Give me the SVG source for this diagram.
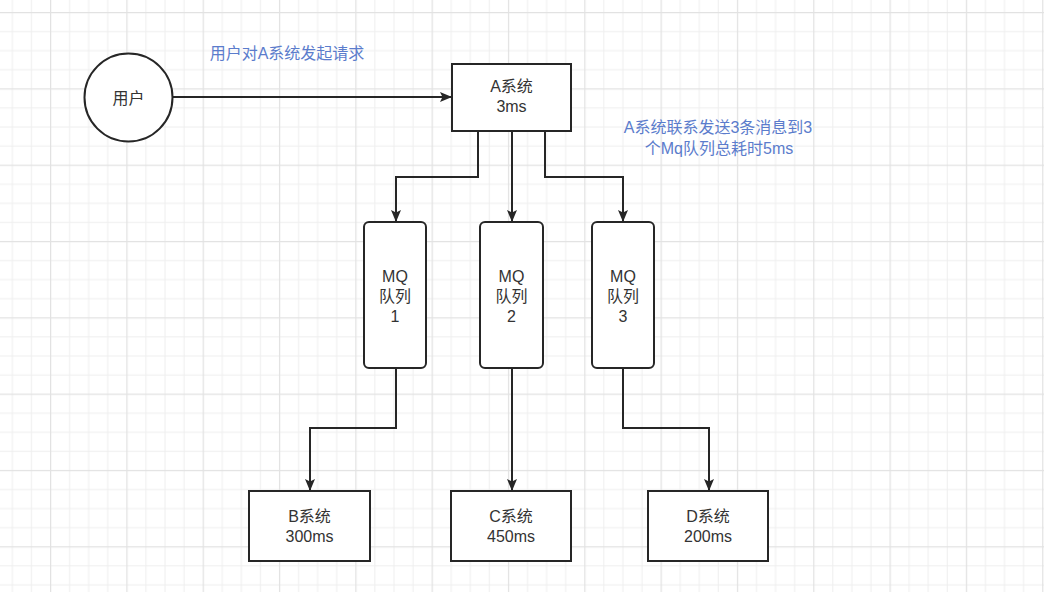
<svg xmlns="http://www.w3.org/2000/svg" width="1044" height="592" viewBox="0 0 1044 592">
<defs>
<pattern id="grid" x="50" y="12" width="76.32" height="76.32" patternUnits="userSpaceOnUse">
<rect width="76.32" height="76.32" fill="#ffffff"/>
<g fill="#efefef">
<rect x="19.08" y="0" width="1" height="76.32"/>
<rect x="38.16" y="0" width="1" height="76.32"/>
<rect x="57.24" y="0" width="1" height="76.32"/>
<rect x="0" y="19.08" width="76.32" height="1"/>
<rect x="0" y="38.16" width="76.32" height="1"/>
<rect x="0" y="57.24" width="76.32" height="1"/>
</g>
<g fill="#e2e2e2">
<rect x="0" y="0" width="1.2" height="76.32"/>
<rect x="0" y="0" width="76.32" height="1.2"/>
</g>
</pattern>
<marker id="arr" markerUnits="userSpaceOnUse" markerWidth="14" markerHeight="12" refX="12" refY="5" orient="auto">
<path d="M0,0 L12,5 L0,10 L2.5,5 Z" fill="#262626"/>
</marker>
<style>
.node{fill:#ffffff;stroke:#262626;stroke-width:2}
.t{font-family:"Liberation Sans","Noto Sans CJK SC",sans-serif;font-size:16px;fill:#333333;text-anchor:middle}
.lbl{font-family:"Liberation Sans","Noto Sans CJK SC",sans-serif;font-size:16px;fill:#5b7ccc;text-anchor:middle}
.edge{fill:none;stroke:#262626;stroke-width:2;marker-end:url(#arr)}
</style>
</defs>
<rect width="1044" height="592" fill="url(#grid)"/>

<g id="connectors">
<path class="edge" d="M173,97 L452,97"/>
<path class="edge" d="M478,131 L478,177 L396,177 L396,222"/>
<path class="edge" d="M512,131 L512,222"/>
<path class="edge" d="M545,131 L545,177 L623,177 L623,222"/>
<path class="edge" d="M396,368 L396,428 L310,428 L310,491"/>
<path class="edge" d="M512,368 L512,491"/>
<path class="edge" d="M623,368 L623,428 L709,428 L709,491"/>
</g>

<g id="user">
<circle class="node" cx="128.5" cy="97.5" r="44"/>
<text class="t" x="128.5" y="104">用户</text>
</g>
<g id="label-request">
<text class="lbl" x="287" y="59">用户对A系统发起请求</text>
</g>
<g id="systemA">
<rect class="node" x="452" y="64" width="119" height="67"/>
<text class="t" x="511.5" y="92">A系统</text>
<text class="t" x="511.5" y="112">3ms</text>
</g>
<g id="label-send">
<text class="lbl" x="718" y="133">A系统联系发送3条消息到3</text>
<text class="lbl" x="719" y="154">个Mq队列总耗时5ms</text>
</g>
<g id="mq1">
<rect class="node" x="364" y="222" width="62" height="146" rx="5"/>
<text class="t" x="395" y="282">MQ</text>
<text class="t" x="395" y="302">队列</text>
<text class="t" x="395" y="322">1</text>
</g>
<g id="mq2">
<rect class="node" x="480" y="222" width="63" height="146" rx="5"/>
<text class="t" x="511.5" y="282">MQ</text>
<text class="t" x="511.5" y="302">队列</text>
<text class="t" x="511.5" y="322">2</text>
</g>
<g id="mq3">
<rect class="node" x="592" y="222" width="62" height="146" rx="5"/>
<text class="t" x="623" y="282">MQ</text>
<text class="t" x="623" y="302">队列</text>
<text class="t" x="623" y="322">3</text>
</g>
<g id="systemB">
<rect class="node" x="249" y="491" width="121" height="70"/>
<text class="t" x="309.5" y="522">B系统</text>
<text class="t" x="309.5" y="542">300ms</text>
</g>
<g id="systemC">
<rect class="node" x="451" y="491" width="120" height="70"/>
<text class="t" x="511" y="522">C系统</text>
<text class="t" x="511" y="542">450ms</text>
</g>
<g id="systemD">
<rect class="node" x="648" y="491" width="120" height="70"/>
<text class="t" x="708" y="522">D系统</text>
<text class="t" x="708" y="542">200ms</text>
</g>
</svg>
